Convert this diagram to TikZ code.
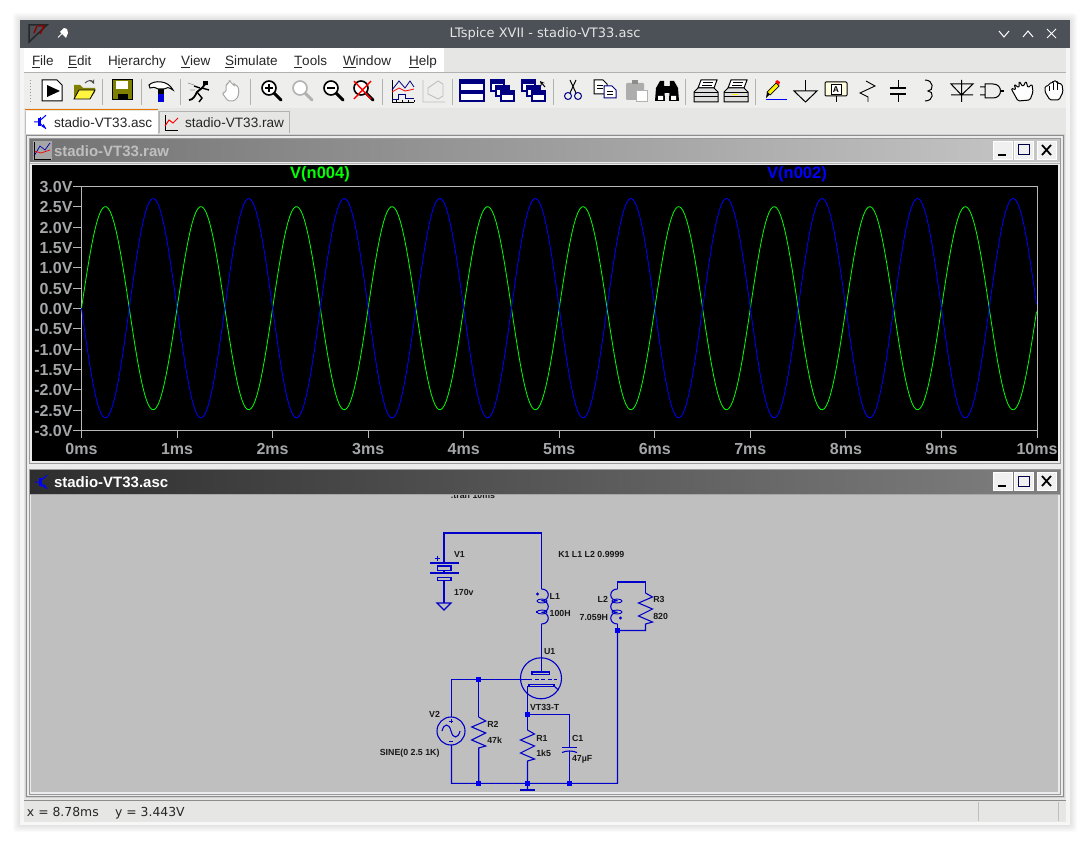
\documentclass[tikz,border=0pt]{standalone}
\usepackage{fontspec}
\setmainfont{Liberation Sans}
\newfontfamily\uifont{DejaVu Sans}
\usetikzlibrary{calc}
\definecolor{wire}{HTML}{0000C8}
\definecolor{junc}{HTML}{0000F0}
\definecolor{axisgray}{HTML}{B8B8B8}
\definecolor{labgray}{HTML}{A4A6A8}
\definecolor{barcol}{HTML}{4B5157}
\definecolor{chrome}{HTML}{E6E6E5}
\definecolor{tool}{HTML}{EEEEEC}
\definecolor{navy}{HTML}{000080}
\definecolor{olive}{HTML}{808000}
\tikzset{
  x=1pt,y=-1pt,
  every node/.style={inner sep=0pt,outer sep=0pt},
  menutext/.style={anchor=west,font=\fontsize{13.5}{15}\selectfont,text=black!85},
  tabtext/.style={anchor=west,font=\fontsize{13.6}{16}\selectfont,text=black!85},
  axlabel/.style={font=\fontsize{16}{18}\bfseries\selectfont,text=labgray},
  ytick/.style={axlabel,anchor=east},
  xtick/.style={axlabel,anchor=center},
  tracelab/.style={font=\fontsize{16.5}{18}\bfseries\selectfont,anchor=center},
  axisline/.style={draw=axisgray,line width=.9pt},
  schlab/.style={font=\fontsize{8.8}{9}\bfseries\selectfont,text=black!90,anchor=west},
  schlabr/.style={schlab,anchor=east},
  wireline/.style={draw=wire,line width=1.1pt,line join=miter},
  junction/.style={fill=junc,draw=none},
  sep/.style={draw=black!30,line width=.8pt},
  ico/.style={draw=black,line width=1pt,fill=white},
  icoline/.style={draw=black,line width=1pt},
  grayline/.style={draw=black!35,line width=1pt},
  winbtnface/.style={fill=black!6,draw=white,line width=.6pt},
  mainwin/.style={draw=navy,line width=1.1pt,fill=white},
  lens/.style={draw=wire,line width=.9pt},
  zoomglass/.pic={
    \draw[line width=3pt,line cap=round,draw=#1] (5,5) -- (12,12);
    \draw[line width=1.6pt,draw=#1,fill=white] (0,0) circle[radius=7];
  },
  zoomglass/.default=black,
  tranicon/.pic={
    \draw[draw=blue,line width=1pt] (0,-6) -- (0,6);
    \draw[draw=blue,line width=1.6pt] (-1,-5) -- (-1,5);
    \draw[draw=blue,line width=1pt] (-8,0) -- (-1,0) (0,-2) -- (8,-9) (0,2) -- (8,9);
    \fill[blue] (8,9) -- (2,6) -- (5,3) -- cycle;
  },
  winstack/.pic={
    \draw[mainwin] (0,0) rectangle (13,11); \fill[navy] (0,0) rectangle (13,4);
    \draw[mainwin] (5,6) rectangle (18,16); \fill[navy] (5,6) rectangle (18,10);
    \draw[mainwin] (10,11) rectangle (23,21); \fill[navy] (10,11) rectangle (23,15);
  },
  printer/.pic={
    \draw[ico] (-5,-11) -- (11,-11) -- (8,-3) -- (-8,-3) -- cycle;
    \draw[draw=black,line width=.6pt] (-3,-8.5) -- (7,-8.5) (-4,-6) -- (6,-6);
    \draw[ico,fill=black!13] (-12,1) -- (-8,-3) -- (8,-3) -- (12,1) -- (12,11) -- (-12,11) -- cycle;
    \draw[icoline] (-12,2) -- (12,2) (-12,6) -- (12,6);
  },
  wbuttons/.pic={
    \draw[winbtnface] (0,0) rectangle (19,18);
    \draw[winbtnface] (21,0) rectangle (40,18);
    \draw[winbtnface] (44,0) rectangle (63,18);
    \fill[black] (5,13) rectangle (13,15);
    \draw[draw=navy!60!black,line width=1pt] (25,4) rectangle (36,14);
    \draw[line width=1.8pt] (49,4) -- (58,14) (58,4) -- (49,14);
  }
}
\newcommand{\rzig}[2]{% vertical resistor zigzag: x, y-top (30px tall)
  (#1,#2) -- ++(7,4) -- ++(-14,6) -- ++(14,6) -- ++(-14,7) -- ++(14,6) -- ++(-7,2)
}
\newcommand{\bump}[3]{% x,y, direction
  (#1,#2) .. controls ({#1+#3*9},#2) and ({#1+#3*9},{#2+11.7}) .. (#1,{#2+11.7})
}
\newcommand{\ul}[1]{\underline{#1}}
\begin{document}
\begin{tikzpicture}
\useasboundingbox (0,0) rectangle (1090,845);
\fill[white] (0,0) rectangle (1090,845);
% shadow
\foreach \s in {1,2,...,7}{
  \fill[black,opacity=.014,rounded corners=3pt] ({20-\s},{20-\s}) rectangle ({1070+\s},{825+\s});
}
% window body
\fill[chrome] (20,20) rectangle (1070,825);
\fill[barcol] (20,20) rectangle (1070,48);
\fill[white] (24,48) rectangle (444,72);
\draw[draw=black!30,line width=.7pt] (24,72.5) -- (1066,72.5);
\fill[tool] (24,73) rectangle (1066,108);
\fill[white!96!black] (1066,48) rectangle (1070,825);
\fill[white!96!black] (20,48) rectangle (24,825);
\node (apptitle) at (545,33.5) {\uifont\fontsize{13}{14}\selectfont\textcolor{white!90!black}{LTspice XVII - stadio-VT33.asc}};
% app logo, pin, controls
\draw[draw=black!85,line width=1.5pt] (29,25) -- (47,25) -- (29,42) -- cycle;
\draw[draw=red!55!black,line width=1.4pt] (34,33) -- (37,26) (38,26) -- (44,26) -- (40,34);
\draw[draw=white,line width=1pt] (58,37.5) -- (62,33.5);
\fill[white] (60,32) -- (66,38) -- (68,33) -- (67,29) -- (64,28) -- cycle;
\draw[draw=white,line width=1pt] (999,31) -- (1004,37) -- (1009,31);
\draw[draw=white,line width=1pt] (1023,37) -- (1028,31) -- (1033,37);
\draw[draw=white,line width=1pt] (1047,29) -- (1056,38) (1056,29) -- (1047,38);
% menu
\node[menutext] (mfile) at (32,62) {\ul{F}ile};
\node[menutext] (medit) at (68,62) {\ul{E}dit};
\node[menutext] (mhier) at (108,62) {H\ul{i}erarchy};
\node[menutext] (mview) at (181,62) {\ul{V}iew};
\node[menutext] (msim) at (225,62) {\ul{S}imulate};
\node[menutext] (mtool) at (294,62) {\ul{T}ools};
\node[menutext] (mwin) at (343,62) {\ul{W}indow};
\node[menutext] (mhelp) at (409,62) {\ul{H}elp};
% toolbar separators
\draw[draw=black!40,line width=1pt,dotted] (30,80) -- (30,104);
\foreach \sx in {102.5,141.5,180.5,250.5,382.5,452.5,553.5,685.5,755.5}{ \draw[sep] (\sx,79) -- (\sx,105); }
% new/run
\draw[ico] (42,80) -- (57,80) -- (62,85) -- (62,101) -- (42,101) -- cycle;
\fill[black] (47,85) -- (47,97) -- (60,91) -- cycle;
% open
\fill[olive] (74,99) -- (74,85) -- (80,85) -- (83,88) -- (95,88) -- (95,92) -- (90,99) -- cycle;
\fill[yellow!75!white] (74,99) -- (79,90) -- (95,90) -- (90,99) -- cycle;
\draw[draw=black,line width=.8pt] (74,99) -- (79,90) -- (95,90) -- (90,99) -- cycle;
\draw[draw=black!70,line width=.9pt,->,>=stealth] (85,83) .. controls (88,80) and (92,80) .. (94,84);
% save
\draw[draw=black,line width=1pt,fill=olive] (112,80) rectangle (132,100);
\fill[white] (116,81) rectangle (128,89);
\fill[black] (118,94) rectangle (128,100);
% hammer
\draw[draw=black,line width=1pt,fill=white] (149,85) .. controls (154,80) and (168,80) .. (173,90) .. controls (169,87) and (166,87) .. (164,89) -- (158,89) .. controls (155,87) and (152,87) .. (150,88) -- cycle;
\fill[black] (158,89) rectangle (164,94);
\fill[blue!85!black] (158,94) rectangle (164,102);
% runner
\draw[draw=black,line width=1.8pt,line join=round] (189,100) .. controls (193,100) and (195,96) .. (197,92) -- (202,88) -- (207,82);
\draw[draw=black,line width=1.4pt] (197,92) -- (202,98) -- (199,102) (202,88) -- (209,90) (200,88) -- (194,86);
\fill[black] (203,81) rectangle (208,85);
\draw[draw=black!40,line width=.7pt] (188,83) -- (194,85) (190,90) -- (195,90);
% gray hand
\draw[grayline,fill=white,rounded corners=1.5pt] (226,92) -- (226,84) -- (228.5,84) -- (228.5,81) -- (231,81) -- (231,84) -- (234,84) -- (234,85) -- (237,85) -- (239,90) -- (238,97) -- (234,101) -- (228,101) -- (222,93) -- cycle;
% zoom
\path (269,88) pic {zoomglass};
\draw[draw=black,line width=1.4pt] (265,88) -- (273,88) (269,84) -- (269,92);
\path (300,88) pic {zoomglass=black!30};
\path (331,88) pic {zoomglass};
\draw[draw=black,line width=1.4pt] (327,88) -- (335,88);
\path (361,88) pic {zoomglass};
\draw[draw=red,line width=1.4pt] (354,81) -- (371,99) (371,81) -- (354,99);
% plot icons
\draw[draw=black,line width=.9pt] (392,80) -- (392,102) -- (414,102);
\foreach \tk in {396,402,408,414}{\draw[draw=black,line width=.7pt] (\tk,102) -- (\tk,100);}
\draw[draw=navy,line width=.8pt] (392,90) -- (399,81) -- (405,88) -- (410,81) -- (414,87);
\draw[draw=red,line width=.8pt] (392,92) -- (399,88) -- (405,91) -- (410,90) -- (414,89);
\draw[draw=navy,line width=.8pt] (392,99) -- (398,99) -- (398,94) -- (405,94) -- (405,98) -- (414,98);
\draw[draw=black!25,line width=.9pt] (423,80) -- (423,102) -- (445,102) (428,88) -- (438,81) -- (443,84) -- (443,96) -- (438,99) -- (428,94) -- cycle;
% window icons
\draw[mainwin] (460,80) rectangle (484,101);
\fill[navy] (460,80) rectangle (484,84);
\fill[navy] (460,90) rectangle (484,94);
\path (491,80) pic {winstack};
\path (522,80) pic {winstack};
\draw[draw=black,line width=1pt,->,>=stealth] (545,87) -- (540,81);
% scissors
\draw[draw=black,line width=1pt] (570,80) -- (576,93) (576,80) -- (570,93);
\draw[draw=navy,line width=1pt] (568,96) circle[radius=3.5] (578,96) circle[radius=3.5];
% copy
\draw[ico] (594,80) -- (603,80) -- (607,84) -- (607,94) -- (594,94) -- cycle;
\draw[ico,draw=navy] (604,86) -- (612,86) -- (616,90) -- (616,98) -- (604,98) -- cycle;
\draw[draw=black,line width=.6pt] (597,85) -- (603,85) (597,88) -- (603,88) (607,91) -- (613,91) (607,94) -- (613,94);
% paste
\fill[black!32,rounded corners=1pt] (626,83) rectangle (644,100);
\fill[black!45] (632,80) rectangle (638,84);
\draw[draw=black!30,fill=white,line width=.8pt] (636,90) rectangle (647,101);
% binoculars
\fill[black] (656,88) -- (660,81) -- (664,81) -- (665,101) -- (655,101) -- cycle;
\fill[black] (678,88) -- (674,81) -- (670,81) -- (669,101) -- (679,101) -- cycle;
\fill[black] (664,86) rectangle (670,93);
\fill[white] (658,96) rectangle (663,100) (671,96) rectangle (676,100);
% printers
\path (706,91) pic {printer};
\path (736,91) pic {printer};
\fill[yellow] (732,94.5) rectangle (738,95.5);
% pencil
\draw[draw=blue,line width=.9pt] (766,99.5) -- (787,99.5);
\fill[black] (766,98) -- (767,92) -- (770,94) -- cycle;
\draw[draw=black,line width=.7pt,fill=yellow] (767,92) -- (776,83) -- (779,86) -- (770,95) -- cycle;
\fill[red] (775,82) -- (777,80) -- (780,82) -- (779,85) -- cycle;
% ground
\draw[draw=black,line width=1pt] (805.5,80) -- (805.5,91);
\draw[draw=black,line width=1pt] (794,91) -- (817,91) -- (805.5,102) -- cycle;
% label
\draw[draw=black,line width=1pt,rounded corners=1pt,fill=yellow!12!white] (825,82) rectangle (847,96);
\draw[draw=black,line width=.9pt,fill=white] (831,84) rectangle (841,94);
\node[font=\fontsize{8.5}{9}\bfseries\selectfont] (labA) at (836,89.3) {A};
\draw[draw=black,line width=1pt] (836,96) -- (836,102);
% resistor
\draw[draw=black,line width=.9pt] (866,81) -- (875,86) -- (860,93) -- (868,97) -- (868,102);
% capacitor
\draw[draw=black,line width=1pt] (898,80) -- (898,88) (898,94) -- (898,102);
\draw[draw=black,line width=1.8pt] (890,88) -- (906,88) (890,94) -- (906,94);
% inductor
\draw[draw=black,line width=1pt] (925,80) .. controls (934,80) and (934,91) .. (928,91) .. controls (934,91) and (934,101) .. (925,101);
% diode
\draw[draw=black,line width=1pt] (961.5,80) -- (961.5,102) (951,84) -- (973,84) -- (961.5,95) -- cycle (951,95) -- (973,95);
% and gate
\draw[draw=black,line width=1pt] (985,84) -- (993,84) .. controls (1003,84) and (1003,98) .. (993,98) -- (985,98) -- cycle (980,87) -- (985,87) (980,95) -- (985,95);
\draw[draw=black,line width=1.6pt] (1000,91) -- (1004,91);
% hands
\draw[ico,line join=round,rounded corners=1.5pt] (1013,92) -- (1011,88) -- (1016,90) -- (1014,84) -- (1019,88) -- (1019,81) -- (1023,87) -- (1026,81) -- (1028,88) -- (1032,84) -- (1033,92) -- (1030,100) -- (1018,101) -- cycle;
\draw[ico,line join=round,rounded corners=1.5pt] (1045,92) -- (1045,86) -- (1049,86) -- (1049,83) -- (1053,83) -- (1053,81) -- (1057,81) -- (1057,83) -- (1062,84) -- (1063,92) -- (1059,100) -- (1050,100) -- cycle;
\draw[draw=black,line width=.8pt] (1049,86) -- (1049,91) (1053,83) -- (1053,90) (1057,83) -- (1057,90);
% tabs
\draw[draw=black!30,fill=chrome,line width=.7pt] (159,133) -- (159,111) -- (289,111) -- (289,133);
\fill[white] (25,111) rectangle (158,135);
\draw[draw=orange!90!black,line width=1pt] (25,110) -- (158,110);
\draw[draw=black!25,line width=.6pt] (25,111) -- (25,134) (158,111) -- (158,134);
\path (40,122) pic[scale=.75] {tranicon};
\node[tabtext] (tabasc) at (54,122.5) {stadio-VT33.asc};
\node[tabtext] (tabraw) at (185,123) {stadio-VT33.raw};
\draw[draw=black,line width=.8pt] (165,115) -- (165,130) -- (178,130);
\draw[draw=red,line width=1pt] (165,126) -- (169,120) -- (173,123) -- (178,118);
% MDI frames
\fill[black!18] (25,134) rectangle (1065,798);
\fill[white!92!black] (27,136) rectangle (1063,796);
\draw[draw=black!45,line width=.8pt] (26.5,135.5) rectangle (1063.5,796.5);
% plot window
\shade[left color=black!55,right color=black!22] (29,139) rectangle (1060,162);
\draw[draw=white!70!black,line width=1pt] (29,163.5) -- (1060,163.5);
\fill[black] (31.5,165) rectangle (1058,460.5);
\draw[draw=white!60!black,line width=.6pt] (29,138.5) rectangle (1060,463);
\fill[black!35] (33,141) rectangle (52,160);
\draw[draw=blue!70!black,line width=.7pt] (34,156) -- (40,146) -- (45,150) -- (50,143);
\draw[draw=red,line width=.7pt] (34,151) -- (41,153) -- (50,150);
\draw[draw=black,line width=.7pt] (34,142) -- (34,159) -- (51,159);
\node[anchor=west,font=\fontsize{15}{16}\bfseries\selectfont,text=black!25] (rawtitle) at (54,151.5) {stadio-VT33.raw};
\path (993,141) pic {wbuttons};
% axes
\draw[axisline] (73,186.5) -- (1037,186.5) -- (1037,438);
\draw[axisline] (73,430) -- (1037,430);
\draw[axisline] (81.5,186.5) -- (81.5,438);
\foreach \k in {1,...,11}{ \draw[axisline] (73,{186.5+\k*20.32}) -- (81.5,{186.5+\k*20.32}); }
\foreach \k in {1,...,9}{ \draw[axisline] ({81.5+\k*95.55},430) -- ({81.5+\k*95.55},438); }
\foreach \v/\lbl [count=\i from 0] in {3.0/3.0V,2.5/2.5V,2.0/2.0V,1.5/1.5V,1.0/1.0V,0.5/0.5V,0.0/0.0V,-0.5/-0.5V,-1.0/-1.0V,-1.5/-1.5V,-2.0/-2.0V,-2.5/-2.5V,-3.0/-3.0V}{
  \node[ytick] (yl\i) at (72.5,{187+\i*20.32}) {\lbl};
}
\foreach \k in {0,...,10}{ \node[xtick] (xl\k) at ({81.5+\k*95.55},449) {\k ms}; }
\node[tracelab,text=green] (trA) at (320,174.5) {V(n004)};
\node[tracelab,text=blue] (trB) at (797,174.5) {V(n002)};
% traces
\draw[draw=green,line width=.8pt] plot[domain=0:10,samples=501] ({81.5+\x*95.55},{308.2-40.64*2.5*sin(360*\x)});
\draw[draw=blue,line width=.8pt] plot[domain=0:10,samples=501] ({81.5+\x*95.55},{308.2+40.64*2.7*sin(360*\x)});
% schematic window
\shade[left color=black!82,right color=black!50] (29,470) rectangle (1060,493);
\draw[draw=white!65!black,line width=1pt] (29,494) -- (1060,494);
\fill[black!25] (31,495) rectangle (1058,792);
\draw[draw=white!60!black,line width=.6pt] (29,469.5) rectangle (1060,794);
\path (41,482) pic[scale=.75] {tranicon};
\node[anchor=west,font=\fontsize{15}{16}\bfseries\selectfont,text=white] (asctitle) at (54,482.5) {stadio-VT33.asc};
\path (993,472) pic {wbuttons};
% schematic contents, clipped to the pane
\begin{scope}
\clip (31,495.5) rectangle (1058,791);
\node[schlab,anchor=base] (tran) at (473,498) {.tran 10ms};
\coordinate (v1top) at (444,533);
\coordinate (l1top) at (541.5,533);
\coordinate (l1a) at (541.5,589);
\coordinate (l1b) at (541.5,624);
\coordinate (anode) at (541.5,672);
\coordinate (v1p) at (444,563);
\coordinate (v1n) at (444,580.5);
\coordinate (gnd1) at (444,603);
\coordinate (l2t) at (617.5,582);
\coordinate (r3t) at (645.5,582);
\coordinate (l2a) at (617.5,589);
\coordinate (l2b) at (617.5,624);
\coordinate (j1) at (617.5,630.5);
\coordinate (r3bend) at (645.5,630.5);
\coordinate (corner) at (617.5,783.3);
\coordinate (lft) at (451.5,679.3);
\coordinate (j2) at (478.7,679.3);
\coordinate (gridend) at (528,679.3);
\coordinate (v2t) at (451.5,717);
\coordinate (v2b) at (451.5,745);
\coordinate (botl) at (451.5,783.3);
\coordinate (j3) at (478.7,783.3);
\coordinate (j4) at (527.5,783.3);
\coordinate (j6) at (569.5,783.3);
\coordinate (jk) at (527.5,714.5);
\coordinate (cbend) at (569.5,714.5);
\coordinate (kl) at (527.5,686);
\coordinate (gnd2) at (527.5,790);
% wires
\draw[wireline] (v1p) -- (v1top) -- (l1top) -- (l1a);
\draw[wireline] (l1b) -- (anode);
\draw[wireline] (v1n) -- (gnd1);
\draw[wireline] (444,570.5) -- (444,573);
\draw[wireline] (430,563) -- (459,563) (430,573) -- (459,573);
\draw[wireline] (437.5,566) rectangle (451,570.5);
\draw[wireline] (437.5,577.5) rectangle (451,580.5);
\draw[wireline] (437,603) -- (451,603) -- (444,610) -- cycle;
\draw[draw=wire,line width=.8pt] (434.5,558) -- (439.5,558) (437,555.5) -- (437,560.5);
% L1
\draw[wireline] \bump{541.5}{589}{1} \bump{541.5}{600.7}{1} \bump{541.5}{612.3}{1};
\draw[lens] (542,601) ellipse[x radius=5,y radius=2];
\draw[lens] (542,612) ellipse[x radius=5,y radius=2];
\fill[wire] (536,611) rectangle (538,613);
\draw[lens] (537.5,594) circle[radius=1];
% L2 + R3
\draw[wireline] (l2a) -- (l2t) -- (r3t) -- (645.5,593);
\draw[wireline] \bump{617.5}{589}{-1} \bump{617.5}{600.7}{-1} \bump{617.5}{612.3}{-1};
\draw[lens] (617,601) ellipse[x radius=5,y radius=2];
\draw[lens] (617,612) ellipse[x radius=5,y radius=2];
\draw[lens] (620.5,618) circle[radius=1];
\draw[wireline] \rzig{645.5}{593} -- (r3bend) -- (j1) -- (corner) -- (botl) -- (v2b);
\draw[wireline] (l2b) -- (j1);
% V2
\draw[wireline] (lft) -- (v2t);
\draw[wireline] (lft) -- (gridend);
\draw[wireline] (451,731) circle[radius=14];
\draw[wireline] (442,731) .. controls (444,723) and (449,723) .. (451,731) .. controls (453,739) and (458,739) .. (460,731);
\draw[draw=wire,line width=.8pt] (449,721) -- (453,721) (451,719) -- (451,723) (449,741) -- (453,741);
% R2
\draw[wireline] (j2) -- (478.7,717);
\draw[wireline] \rzig{478.7}{717} -- (j3);
% tube
\draw[wireline] (541,678.3) circle[radius=20.5];
\draw[wireline] (532,672) rectangle (549.5,674.7);
\draw[draw=wire,line width=1pt,dash pattern=on 4pt off 2.5pt] (gridend) -- (557,679.3);
\draw[wireline] (529,684.7) rectangle (554,686.3);
\draw[wireline] (554,686) -- (558.5,690);
\draw[wireline] (kl) -- (jk);
% R1 / C1
\draw[wireline] (jk) -- (527.5,730);
\draw[wireline] \rzig{527.5}{730} -- (j4) -- (gnd2);
\draw[wireline] (520,790) -- (535,790);
\draw[wireline] (jk) -- (cbend) -- (569.5,747.7);
\draw[wireline] (562,747.7) -- (577,747.7);
\draw[wireline] (562,752.5) .. controls (566,750.5) and (573,750.5) .. (577,752.5);
\draw[wireline] (569.5,751) -- (j6);
% junctions
\foreach \j in {j1,j2,j3,j4,j6,jk}{ \fill[junction] ($(\j)+(-2.5,-2.5)$) rectangle ($(\j)+(2.5,2.5)$); }
% labels
\node[schlab] (lv1) at (454,554.5) {V1};
\node[schlab] (lv1v) at (454,592.8) {170v};
\node[schlab] (lk1) at (558.3,554.5) {K1 L1 L2 0.9999};
\node[schlab] (ll1) at (549.7,596.5) {L1};
\node[schlab] (ll1v) at (549.7,613.5) {100H};
\node[schlabr] (ll2) at (608,599.5) {L2};
\node[schlabr] (ll2v) at (608,617.5) {7.059H};
\node[schlab] (lr3) at (653.3,599.5) {R3};
\node[schlab] (lr3v) at (653.3,616.2) {820};
\node[schlab] (lu1) at (544,651.5) {U1};
\node[schlab] (lu1v) at (530,707.8) {VT33-T};
\node[schlabr] (lv2) at (440,714.5) {V2};
\node[schlabr] (lv2v) at (439.5,753.2) {SINE(0 2.5 1K)};
\node[schlab] (lr2) at (487.3,724.5) {R2};
\node[schlab] (lr2v) at (487.3,740.5) {47k};
\node[schlab] (lr1) at (536.3,738.2) {R1};
\node[schlab] (lr1v) at (536.3,753.5) {1k5};
\node[schlab] (lc1) at (572,738.2) {C1};
\node[schlab] (lc1v) at (572,759.8) {47µF};
\end{scope}
% status bar
\draw[draw=black!45,line width=.8pt] (24,800.5) -- (1066,800.5);
\node[anchor=west,font=\uifont\fontsize{12.4}{14}\selectfont,text=black!85] (status) at (27,813) {x = 8.78ms\hspace{1em}\ y = 3.443V};
\draw[draw=black!25,line width=.7pt] (978.5,802) -- (978.5,821) (1058.5,802) -- (1058.5,821);
\fill[white!97!black] (20,822) rectangle (1070,825);
\end{tikzpicture}
\end{document}
